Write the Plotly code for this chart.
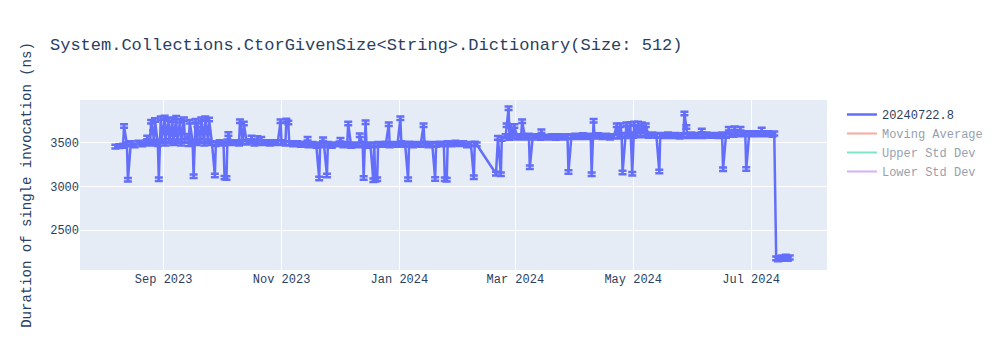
import plotly.graph_objects as go
import pandas as pd

TITLE = "System.Collections.CtorGivenSize<String>.Dictionary(Size: 512)"
Y_TITLE = "Duration of single invocation (ns)"
SERIES_NAME = "20240722.8"

# Regular runs (date, mean duration in ns)
BASE_DATES = [
    "2023-08-07", "2023-08-09", "2023-08-11", "2023-08-13", "2023-08-15", "2023-08-17", "2023-08-19",
    "2023-08-21", "2023-08-23", "2023-08-25", "2023-08-27", "2023-08-29", "2023-08-31",
    "2023-09-02", "2023-09-04", "2023-09-06", "2023-09-08", "2023-09-10", "2023-09-12", "2023-09-14",
    "2023-09-16", "2023-09-18", "2023-09-20", "2023-09-22", "2023-09-24", "2023-09-26", "2023-09-28", "2023-09-30",
    "2023-10-02", "2023-10-04", "2023-10-06", "2023-10-08", "2023-10-10", "2023-10-12", "2023-10-14",
    "2023-10-16", "2023-10-18", "2023-10-20", "2023-10-22", "2023-10-24", "2023-10-26", "2023-10-28", "2023-10-30",
    "2023-11-01", "2023-11-03", "2023-11-05", "2023-11-07", "2023-11-09", "2023-11-11", "2023-11-13",
    "2023-11-15", "2023-11-17", "2023-11-19", "2023-11-21", "2023-11-23", "2023-11-25", "2023-11-27", "2023-11-29",
    "2023-12-01", "2023-12-03", "2023-12-05", "2023-12-07", "2023-12-09", "2023-12-11", "2023-12-13", "2023-12-15",
    "2023-12-17", "2023-12-19", "2023-12-21", "2023-12-23", "2023-12-25", "2023-12-27", "2023-12-29", "2023-12-31",
    "2024-01-02", "2024-01-04", "2024-01-06", "2024-01-08", "2024-01-10", "2024-01-12", "2024-01-14",
    "2024-01-16", "2024-01-18", "2024-01-20", "2024-01-22", "2024-01-24", "2024-01-26", "2024-01-28", "2024-01-30",
    "2024-02-01", "2024-02-03", "2024-02-05", "2024-02-07", "2024-02-09", "2024-02-10",
    "2024-02-20", "2024-02-21", "2024-02-23", "2024-02-25", "2024-02-27", "2024-02-29",
    "2024-03-02", "2024-03-04", "2024-03-06", "2024-03-08", "2024-03-10", "2024-03-12", "2024-03-14",
    "2024-03-16", "2024-03-18", "2024-03-20", "2024-03-22", "2024-03-24", "2024-03-26", "2024-03-28", "2024-03-30",
    "2024-04-01", "2024-04-03", "2024-04-05", "2024-04-07", "2024-04-09", "2024-04-11", "2024-04-13",
    "2024-04-15", "2024-04-17", "2024-04-19", "2024-04-21", "2024-04-23", "2024-04-25", "2024-04-27", "2024-04-29",
    "2024-05-01", "2024-05-03", "2024-05-05", "2024-05-07", "2024-05-09", "2024-05-11", "2024-05-13", "2024-05-15",
    "2024-05-17", "2024-05-19", "2024-05-21", "2024-05-23", "2024-05-25", "2024-05-27", "2024-05-29", "2024-05-31",
    "2024-06-02", "2024-06-04", "2024-06-06", "2024-06-08", "2024-06-10", "2024-06-12", "2024-06-14",
    "2024-06-16", "2024-06-18", "2024-06-20", "2024-06-22", "2024-06-24", "2024-06-26", "2024-06-28", "2024-06-30",
    "2024-07-02", "2024-07-04", "2024-07-06", "2024-07-08", "2024-07-10", "2024-07-12", "2024-07-13",
    "2024-07-14", "2024-07-15", "2024-07-16", "2024-07-17", "2024-07-18", "2024-07-19", "2024-07-20", "2024-07-21",
]
BASE_VALUES = [
    3455, 3460, 3465, 3480, 3495, 3470, 3500, 3480, 3505, 3490, 3510, 3485, 3515,
    3490, 3520, 3495, 3515, 3490, 3520, 3485, 3510, 3495, 3520, 3490, 3515, 3495, 3485, 3505,
    3490, 3515, 3495, 3505, 3490, 3510, 3500, 3515, 3490, 3510, 3495, 3505, 3490, 3505, 3495,
    3505, 3490, 3495, 3480, 3495, 3475, 3490, 3470, 3485, 3465, 3480, 3470, 3485, 3465, 3480,
    3490, 3470, 3485, 3465, 3480, 3470, 3485, 3465, 3480, 3470, 3485, 3475, 3490, 3470, 3485, 3475,
    3495, 3475, 3490, 3470, 3485, 3475, 3490, 3470, 3485, 3475, 3490, 3480, 3495, 3480, 3500,
    3485, 3495, 3470, 3485, 3490, 3480,
    3145, 3555, 3545, 3575, 3555, 3580,
    3560, 3575, 3560, 3580, 3560, 3575, 3555, 3570, 3560, 3575, 3555, 3575, 3560, 3575, 3565,
    3580, 3565, 3585, 3565, 3580, 3570, 3585, 3565, 3580, 3560, 3575, 3570, 3590, 3575, 3595,
    3580, 3600, 3585, 3595, 3580, 3595, 3580, 3590, 3575, 3595, 3575, 3590, 3570, 3585, 3575, 3595,
    3575, 3590, 3575, 3595, 3580, 3590, 3575, 3595, 3580, 3590, 3590, 3610, 3595, 3610, 3595,
    3610, 3595, 3610, 3595, 3610, 3590, 3605,
    2175, 2165, 2170, 2185, 2175, 2195, 2170, 2185,
]

# Outlier runs (date, mean duration in ns)
SPIKE_DATES = [
    "2023-08-11 12:00", "2023-08-13 12:00", "2023-08-23 12:00", "2023-08-25 12:00", "2023-08-26 12:00",
    "2023-08-27 12:00", "2023-08-29 12:00", "2023-08-30 12:00", "2023-09-01 12:00", "2023-09-02 12:00",
    "2023-09-03 12:00", "2023-09-05 12:00", "2023-09-06 12:00", "2023-09-07 12:00", "2023-09-09 12:00",
    "2023-09-11 12:00", "2023-09-13 12:00", "2023-09-14 12:00", "2023-09-16 12:00", "2023-09-17 12:00",
    "2023-09-18 12:00", "2023-09-20 12:00", "2023-09-22 12:00", "2023-09-23 12:00", "2023-09-24 12:00",
    "2023-09-27 12:00", "2023-10-02 12:00", "2023-10-03 12:00", "2023-10-04 12:00", "2023-10-10 12:00",
    "2023-10-12 12:00", "2023-10-16 12:00", "2023-10-19 12:00", "2023-10-21 12:00", "2023-10-31 12:00",
    "2023-11-03 12:00", "2023-11-04 12:00", "2023-11-14 12:00", "2023-11-20 12:00", "2023-11-22 12:00",
    "2023-11-24 12:00", "2023-12-01 12:00", "2023-12-05 12:00", "2023-12-11 12:00", "2023-12-13 12:00",
    "2023-12-14 12:00", "2023-12-18 12:00", "2023-12-19 12:00", "2023-12-20 12:00", "2023-12-26 12:00",
    "2024-01-01 12:00", "2024-01-05 12:00", "2024-01-13 12:00", "2024-01-19 12:00", "2024-01-24 12:00",
    "2024-01-25 12:00", "2024-02-08 12:00", "2024-02-22 12:00", "2024-02-25 12:00", "2024-02-26 12:00",
    "2024-02-27 12:00", "2024-02-29 12:00", "2024-03-04 12:00", "2024-03-08 12:00", "2024-03-14 12:00",
    "2024-03-28 12:00", "2024-04-09 12:00", "2024-04-10 12:00", "2024-04-22 12:00", "2024-04-24 12:00",
    "2024-04-25 12:00", "2024-04-27 12:00", "2024-04-29 12:00", "2024-04-30 12:00", "2024-05-01 12:00",
    "2024-05-03 12:00", "2024-05-05 12:00", "2024-05-07 12:00", "2024-05-14 12:00", "2024-05-27 12:00",
    "2024-05-28 12:00", "2024-06-05 12:00", "2024-06-16 12:00", "2024-06-19 12:00", "2024-06-22 12:00",
    "2024-06-25 12:00", "2024-06-28 12:00", "2024-07-06 12:00",
]
SPIKE_VALUES = [
    3690, 3075, 3560, 3740, 3620,
    3760, 3080, 3780, 3790, 3620,
    3770, 3760, 3600, 3785, 3750,
    3770, 3580, 3740, 3115, 3750,
    3700, 3770, 3780, 3620, 3765,
    3125, 3100, 3095, 3600, 3745,
    3720, 3560, 3555, 3545, 3745,
    3755, 3730, 3545, 3090, 3540,
    3125, 3535, 3720, 3585, 3095,
    3735, 3070, 3075, 3080, 3710,
    3780, 3080, 3700, 3085, 3080,
    3075, 3105, 3140, 3700, 3895,
    3690, 3690, 3745, 3220, 3630,
    3165, 3140, 3750, 3700, 3700,
    3160, 3710, 3715, 3145, 3720,
    3720, 3710, 3700, 3170, 3835,
    3680, 3640, 3195, 3660, 3665,
    3660, 3200, 3650,
]
BASE_ERR = 22
SPIKE_ERR = 20

# Hidden (legend-only) statistics series
STAT_DATES = ["2023-08-15", "2023-09-15", "2023-10-15", "2023-11-15", "2023-12-15", "2024-01-15",
              "2024-03-15", "2024-04-15", "2024-05-15", "2024-06-15", "2024-07-10"]
MOVING_AVG = [3480, 3500, 3500, 3480, 3475, 3485, 3570, 3575, 3590, 3585, 3600]
UPPER_STD = [3640, 3680, 3620, 3600, 3610, 3620, 3680, 3690, 3700, 3690, 3700]
LOWER_STD = [3320, 3320, 3380, 3360, 3340, 3350, 3460, 3460, 3480, 3480, 3500]

df = pd.DataFrame({
    "date": pd.to_datetime(BASE_DATES + SPIKE_DATES, format="ISO8601"),
    "value": BASE_VALUES + SPIKE_VALUES,
    "err": [BASE_ERR] * len(BASE_DATES) + [SPIKE_ERR] * len(SPIKE_DATES),
}).sort_values("date")

FONT = "Liberation Mono, Courier New, monospace"

fig = go.Figure()
fig.add_trace(go.Scatter(
    x=df["date"], y=df["value"], mode="lines", name=SERIES_NAME,
    line=dict(color="#636EFA", width=2.5),
    error_y=dict(type="data", array=df["err"].tolist(), visible=True, width=4, thickness=2.5),
))
fig.add_trace(go.Scatter(x=STAT_DATES, y=MOVING_AVG, mode="lines", name="Moving Average",
                         line=dict(color="#EF553B"), visible="legendonly"))
fig.add_trace(go.Scatter(x=STAT_DATES, y=UPPER_STD, mode="lines", name="Upper Std Dev",
                         line=dict(color="#00CC96"), visible="legendonly"))
fig.add_trace(go.Scatter(x=STAT_DATES, y=LOWER_STD, mode="lines", name="Lower Std Dev",
                         line=dict(color="#AB63FA"), visible="legendonly"))

fig.update_layout(
    template="plotly",
    width=1000, height=350,
    font=dict(family=FONT),
    title=dict(text=TITLE),
    yaxis=dict(title=dict(text=Y_TITLE), range=[2042, 3989], tickvals=[2500, 3000, 3500]),
    xaxis=dict(range=["2023-07-19 17:00", "2024-08-09 07:00"]),
)

fig.write_html("out.html")
